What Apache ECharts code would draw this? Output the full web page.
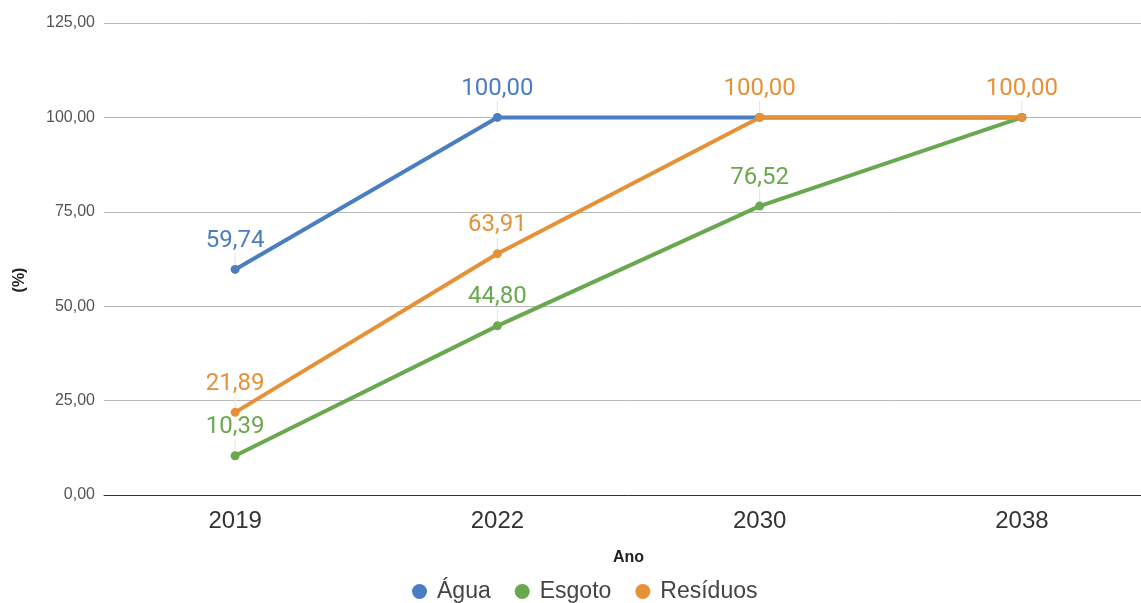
<!DOCTYPE html>
<html><head><meta charset="utf-8">
<script src="https://cdn.jsdelivr.net/npm/echarts@6/dist/echarts.min.js"></script>
<style>html,body{margin:0;padding:0;background:#fff;overflow:hidden}#c{width:1153px;height:603px}</style>
</head><body><div id="c"></div>
<script>
const categories = ['2019', '2022', '2030', '2038'];
const agua = [59.74, 100, 100, 100];
const esgoto = [10.39, 44.80, 76.52, 100];
const residuos = [21.89, 63.91, 100, 100];
const aguaShow = [true, true, false, false];
const esgotoShow = [true, true, true, false];
const residuosShow = [true, true, true, true];
const yTicks = { min: 0, max: 125, interval: 25 };

const fmt = v => v.toFixed(2).replace('.', ',');
function mk(name, vals, show, color) {
  return {
    name, type: 'line', data: vals.map((v, i) => ({ value: v, label: { show: show[i] }, labelLine: { show: show[i] } })),
    symbol: 'circle', symbolSize: 9,
    lineStyle: { width: 4, color }, itemStyle: { color },
    label: { show: true, position: 'top', distance: 4, color, fontFamily: 'Roboto', fontSize: 24,
      formatter: p => fmt(p.value) },
    labelLayout: { dy: -8 },
    labelLine: { show: true, lineStyle: { color: '#e3e3e3', width: 1 } },
    emphasis: { disabled: true }
  };
}
const chart = echarts.init(document.getElementById('c'), null, { renderer: 'canvas' });
chart.setOption({
  animation: false,
  color: ['#4a7ec1', '#6aa84f', '#e69138'],
  grid: { left: 104, right: 0, top: 23, bottom: 108 },
  legend: {
    bottom: -5, left: 407, icon: 'circle', itemWidth: 15, itemHeight: 15, itemGap: 24,
    textStyle: { fontFamily: 'Liberation Sans', fontSize: 23, color: '#444', padding: [0, 0, 0, 5] },
    data: ['Água', 'Esgoto', 'Resíduos']
  },
  graphic: [{
    type: 'text', x: 20, y: 280, rotation: Math.PI / 2,
    style: { text: '(%)', font: 'bold 16px "Liberation Sans"', fill: '#222', align: 'center', verticalAlign: 'middle' }
  }],
  xAxis: {
    type: 'category', data: categories, boundaryGap: true,
    name: 'Ano', nameLocation: 'middle', nameGap: 55,
    nameTextStyle: { fontFamily: 'Liberation Sans', fontSize: 16, fontWeight: 'bold', color: '#222' },
    axisLine: { lineStyle: { color: '#333', width: 1 } }, axisTick: { show: false },
    axisLabel: { fontFamily: 'Liberation Sans', fontSize: 24, color: '#333', margin: 14 }
  },
  yAxis: {
    type: 'value', min: yTicks.min, max: yTicks.max, interval: yTicks.interval,
    axisLine: { show: false }, axisTick: { show: false },
    axisLabel: { fontFamily: 'Liberation Sans', fontSize: 16, color: '#555', margin: 9, formatter: v => fmt(v) },
    splitLine: { lineStyle: { color: '#b7b7b7', width: 1 } }
  },
  series: [
    mk('Água', agua, aguaShow, '#4a7ec1'),
    mk('Esgoto', esgoto, esgotoShow, '#6aa84f'),
    mk('Resíduos', residuos, residuosShow, '#e69138')
  ]
});
</script></body></html>
